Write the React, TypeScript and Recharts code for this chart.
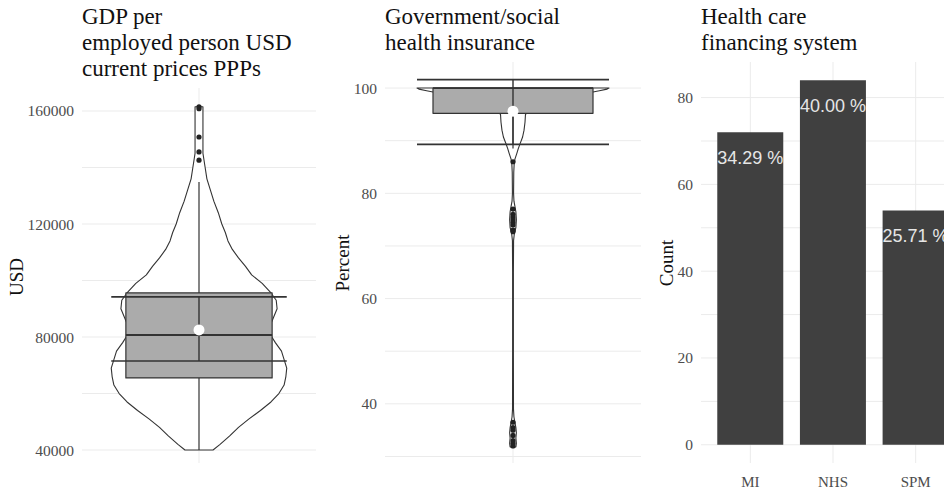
import React from "react";
import {
  ScatterChart, Scatter, BarChart, Bar, XAxis, YAxis, CartesianGrid, LabelList, ReferenceLine,
} from "recharts";

// Panel 1: GDP per employed person (violin + boxplot + mean ± sd)
const GDP_TICKS = [40000, 80000, 120000, 160000];
const GDP_GRID = [40000, 60000, 80000, 100000, 120000, 140000, 160000];
const GDP_DOMAIN = [35400, 168140];
const GDP_VIOLIN_Y = [
  40000, 42000, 45000, 48000, 51000, 54000, 57000, 60000, 63000, 66000, 69000, 72000,
  75000, 78000, 81000, 84000, 87000, 90000, 93000, 96000, 99000, 102000, 105000, 108000,
  111000, 114000, 117000, 120000, 124000, 128000, 132000, 136000, 140000, 143000, 145000,
  150000, 155000, 161500,
];
// relative density (1 = widest point of the violin)
const GDP_VIOLIN_DENS = [
  0.16, 0.24, 0.35, 0.45, 0.57, 0.7, 0.82, 0.91, 0.97, 0.99, 1.0, 0.97,
  0.94, 0.87, 0.81, 0.81, 0.85, 0.89, 0.88, 0.81, 0.72, 0.6, 0.53, 0.45,
  0.38, 0.33, 0.3, 0.26, 0.22, 0.17, 0.13, 0.09, 0.07, 0.055, 0.045,
  0.045, 0.045, 0.045,
];
const GDP_BOX = [65500, 80700, 95600]; // q1, median, q3
const GDP_WHISKER = [40000, 134900];
const GDP_MEAN = 82500;
const GDP_ERR = [71500, 94200];
const GDP_OUTLIERS = [161500, 160800, 150800, 145500, 142600];

// Panel 2: Government/social health insurance (percent)
const GOV_TICKS = [40, 60, 80, 100];
const GOV_GRID = [30, 40, 50, 60, 70, 80, 90, 100];
const GOV_DOMAIN = [28.76, 104.95];
const GOV_VIOLIN_Y = [
  31.8, 32.5, 33.5, 34.5, 35.5, 36.5, 37.5, 39, 50, 65, 71, 72.5, 73.5, 75, 76.5, 77.5,
  78.5, 80, 84, 85.5, 86.5, 87.6, 88.5, 89.5, 90.7, 92, 93.5, 95, 96, 97, 98, 98.8,
  99.2, 99.5, 99.8, 100,
];
const GOV_VIOLIN_DENS = [
  0.03, 0.035, 0.03, 0.035, 0.03, 0.02, 0.01, 0.005, 0.004, 0.004, 0.006, 0.015, 0.03, 0.035, 0.03, 0.02,
  0.01, 0.006, 0.008, 0.012, 0.02, 0.04, 0.055, 0.075, 0.1, 0.115, 0.125, 0.13, 0.2, 0.33, 0.5, 0.68,
  0.82, 0.9, 0.98, 1.0,
];
const GOV_BOX = [95.2, 100, 100];
const GOV_WHISKER = [88.5, 100];
const GOV_MEAN = 95.6;
const GOV_ERR = [89.3, 101.6];
const GOV_OUTLIERS = [86, 77, 76, 75.5, 75, 74.5, 74, 73, 72.7, 36.5, 35.5, 35, 34, 33, 32.5, 32];

// Panel 3: Health care financing system
const FIN_CATS = ["MI", "NHS", "SPM"];
const FIN_COUNTS = [72, 84, 54];
const FIN_TICKS = [0, 20, 40, 60, 80];
const FIN_GRID = [0, 10, 20, 30, 40, 50, 60, 70, 80];
const FIN_DOMAIN = [-4.2, 88.2];

const VIOLIN_HALF = 0.45;
const BOX_HALF = 0.375;
const ERR_HALF = 0.45;
const X_DOMAIN = [-0.6, 0.6];

const SERIF = '"Liberation Serif", "Times New Roman", serif';
const SANS = '"Liberation Sans", Arial, sans-serif';
const INK = "#333333";
const GRID = "#ebebeb";

const tickStyle = { fontSize: 15.5, fill: "#4d4d4d", fontFamily: SERIF };

// grid line positions: use the axis scale when it is callable, otherwise map linearly on the plot box
const gridRows = (values: number[], domain: number[]) => ({ yAxis, offset }: any) => {
  const s = yAxis && yAxis.scale;
  if (typeof s === "function") return values.map(v => s(v));
  if (s && typeof s.map === "function") return values.map(v => s.map(v));
  return values.map(v => offset.top + offset.height * (domain[1] - v) / (domain[1] - domain[0]));
};
const gridCols = ({ xAxis, offset }: any) => {
  const s = xAxis && xAxis.scale;
  if (typeof s === "function") return [s(0)];
  if (s && typeof s.map === "function") return [s.map(0)];
  return [offset.left + offset.width / 2];
};

const pathOf = (stroke: string, width: number, fill = "none", close = false) => (p: any) => {
  const pts = (p.points || []) as { x: number; y: number }[];
  if (!pts.length) return <g />;
  const d = pts.map((q, i) => `${i ? "L" : "M"}${q.x},${q.y}`).join(" ") + (close ? " Z" : "");
  return <path d={d} fill={fill} stroke={stroke} strokeWidth={width} strokeLinejoin="round" />;
};
const noDot = () => <g />;
const dot = (r: number, fill: string) => (p: any) => <circle cx={p.cx} cy={p.cy} r={r} fill={fill} />;

function violinPoints(ys: number[], dens: number[]) {
  const right = ys.map((y, i) => ({ x: dens[i] * VIOLIN_HALF, y }));
  const left = ys.map((y, i) => ({ x: -dens[i] * VIOLIN_HALF, y })).reverse();
  return [...right, ...left];
}

function ViolinPanel(props: {
  left: number; width: number; top: number; axisWidth: number;
  domain: number[]; ticks: number[]; grid: number[];
  vy: number[]; vd: number[]; box: number[]; whisker: number[];
  mean: number; err: number[]; outliers: number[];
}) {
  const { box, whisker, err, mean } = props;
  const [q1, med, q3] = box;
  return (
    <div style={{ position: "absolute", left: props.left, top: 0 }}>
      <ScatterChart width={props.width} height={491} margin={{ top: props.top, right: 0, bottom: 28, left: 0 }}>
        <CartesianGrid
          stroke={GRID}
          horizontalCoordinatesGenerator={gridRows(props.grid, props.domain)}
          verticalCoordinatesGenerator={gridCols}
        />
        <XAxis type="number" dataKey="x" domain={X_DOMAIN} allowDataOverflow hide />
        <YAxis type="number" dataKey="y" domain={props.domain} ticks={props.ticks} interval={0}
          allowDataOverflow width={props.axisWidth} axisLine={false} tickLine={false} tick={tickStyle} />
        <Scatter data={violinPoints(props.vy, props.vd)} shape={noDot} line={pathOf(INK, 1.1, "#ffffff", true)} isAnimationActive={false} />
        <Scatter data={[{ x: 0, y: whisker[0] }, { x: 0, y: whisker[1] }]} shape={noDot} line={pathOf(INK, 1.2)} isAnimationActive={false} />
        <Scatter
          data={[{ x: -BOX_HALF, y: q1 }, { x: BOX_HALF, y: q1 }, { x: BOX_HALF, y: q3 }, { x: -BOX_HALF, y: q3 }]}
          shape={noDot} line={pathOf(INK, 1.2, "#ababab", true)} isAnimationActive={false} />
        <Scatter data={[{ x: -BOX_HALF, y: med }, { x: BOX_HALF, y: med }]} shape={noDot} line={pathOf(INK, 1.8)} isAnimationActive={false} />
        <Scatter data={[{ x: 0, y: err[0] }, { x: 0, y: err[1] }]} shape={noDot} line={pathOf(INK, 1.4)} isAnimationActive={false} />
        <Scatter data={[{ x: -ERR_HALF, y: err[0] }, { x: ERR_HALF, y: err[0] }]} shape={noDot} line={pathOf(INK, 1.6)} isAnimationActive={false} />
        <Scatter data={[{ x: -ERR_HALF, y: err[1] }, { x: ERR_HALF, y: err[1] }]} shape={noDot} line={pathOf(INK, 1.6)} isAnimationActive={false} />
        <Scatter data={props.outliers.map(y => ({ x: 0, y }))} shape={dot(2.6, "#222222")} isAnimationActive={false} />
        <Scatter data={[{ x: 0, y: mean }]} shape={dot(5.5, "#ffffff")} isAnimationActive={false} />
      </ScatterChart>
    </div>
  );
}

function Title({ left, lines }: { left: number; lines: string[] }) {
  return (
    <div style={{ position: "absolute", left, top: 4, fontFamily: SERIF, fontSize: 23, lineHeight: "26px", color: "#111", whiteSpace: "nowrap" }}>
      {lines.map(l => <div key={l}>{l}</div>)}
    </div>
  );
}

function AxisTitle({ x, y, text }: { x: number; y: number; text: string }) {
  return (
    <div style={{
      position: "absolute", left: x, top: y, transform: "translate(-50%, -50%) rotate(-90deg)",
      fontFamily: SERIF, fontSize: 19, color: "#111", whiteSpace: "nowrap",
    }}>{text}</div>
  );
}

const pctLabel = (total: number) => (p: any) => {
  const { x, y, width, value } = p;
  return (
    <text x={x + width / 2} y={y + 26} textAnchor="middle" dominantBaseline="central"
      fontFamily={SANS} fontSize={18} fill="#e6e6e6">
      {`${((value / total) * 100).toFixed(2)} %`}
    </text>
  );
};

export default function App() {
  const total = FIN_COUNTS.reduce((a, b) => a + b, 0);
  const finData = FIN_CATS.map((cat, i) => ({ cat, count: FIN_COUNTS[i] }));
  return (
    <div style={{ position: "absolute", left: 0, top: 0, width: 944, height: 491, overflow: "hidden", background: "#fff" }}>
      <ViolinPanel left={0} width={316} top={88} axisWidth={82} domain={GDP_DOMAIN} ticks={GDP_TICKS} grid={GDP_GRID}
        vy={GDP_VIOLIN_Y} vd={GDP_VIOLIN_DENS} box={GDP_BOX} whisker={GDP_WHISKER}
        mean={GDP_MEAN} err={GDP_ERR} outliers={GDP_OUTLIERS} />
      <ViolinPanel left={320} width={321} top={62} axisWidth={65} domain={GOV_DOMAIN} ticks={GOV_TICKS} grid={GOV_GRID}
        vy={GOV_VIOLIN_Y} vd={GOV_VIOLIN_DENS} box={GOV_BOX} whisker={GOV_WHISKER}
        mean={GOV_MEAN} err={GOV_ERR} outliers={GOV_OUTLIERS} />
      <div style={{ position: "absolute", left: 640, top: 0 }}>
        <BarChart width={340} height={491} data={finData} margin={{ top: 62, right: 15, bottom: 0, left: 0 }} barCategoryGap="10%">
          <CartesianGrid stroke={GRID} vertical={false} horizontalCoordinatesGenerator={gridRows(FIN_GRID, FIN_DOMAIN)} />
          {FIN_CATS.map(c => (
            <ReferenceLine key={c} x={c} stroke={GRID} strokeWidth={1} zIndex={-50} />
          ))}
          <XAxis dataKey="cat" height={28} padding={{ left: 8, right: 8 }} axisLine={false} tickLine={false} tickMargin={7}
            tick={{ ...tickStyle, fontSize: 15 }} />
          <YAxis type="number" domain={FIN_DOMAIN} ticks={FIN_TICKS} interval={0} allowDataOverflow width={61}
            axisLine={false} tickLine={false} tick={tickStyle} />
          <Bar dataKey="count" fill="#404040" isAnimationActive={false}>
            <LabelList dataKey="count" content={pctLabel(total)} />
          </Bar>
        </BarChart>
      </div>
      <Title left={82} lines={["GDP per", "employed person USD", "current prices PPPs"]} />
      <Title left={385} lines={["Government/social", "health insurance"]} />
      <Title left={701} lines={["Health care", "financing system"]} />
      <AxisTitle x={17} y={277} text="USD" />
      <AxisTitle x={343} y={263} text="Percent" />
      <AxisTitle x={667} y={263} text="Count" />
    </div>
  );
}
